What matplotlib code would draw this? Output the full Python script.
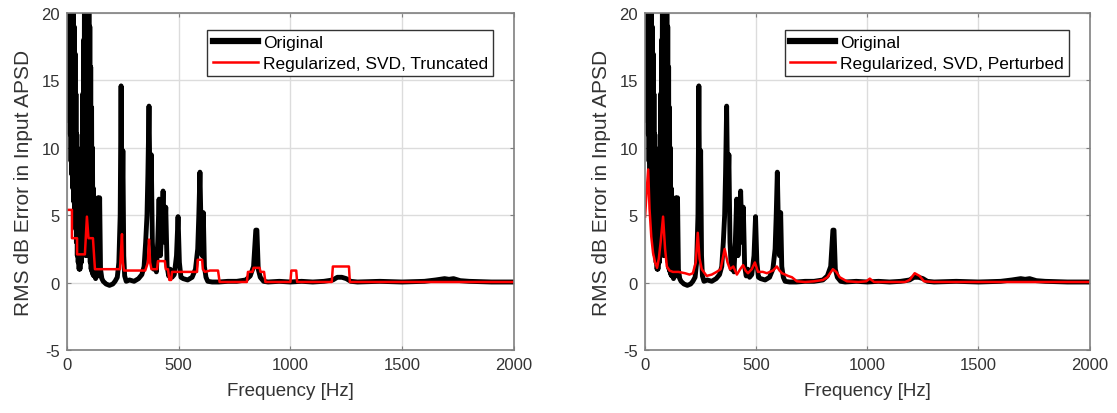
import numpy as np
import matplotlib
matplotlib.use('Agg')
import matplotlib.pyplot as plt

plt.rcParams['font.family'] = ['Liberation Sans', 'DejaVu Sans']
plt.rcParams['axes.unicode_minus'] = False

# original RMS dB error (same trace in both panels)
orig_freq = [0, 2, 4, 6, 8, 10, 12, 14, 16, 18, 20, 22, 24, 26, 28, 30, 32, 34, 36, 38,
             40, 42, 44, 46, 48, 50, 52, 54, 56, 58, 60, 62, 64, 66, 68, 70, 72, 74, 76,
             78, 80, 82, 84, 86, 88, 90, 92, 94, 96, 98, 100, 102, 104, 106, 108, 110,
             112, 114, 116, 118, 120, 122, 124, 126, 128, 130, 134, 138, 142, 146, 150,
             156, 162, 175, 190, 205, 215, 225, 232, 238, 242, 246, 250,
             254, 258, 265, 280, 300, 320, 335, 345, 352, 358, 362, 367, 372, 377, 382,
             388, 395, 400, 406, 412, 418, 424, 430, 436, 442, 448, 455, 462, 470, 480,
             490, 497, 503, 510, 520, 540, 560, 575, 585, 590, 595, 600, 605, 610, 615,
             622, 630, 650, 680, 720, 760, 800, 820, 835, 845, 850, 856, 865, 880, 900,
             950, 1000, 1050, 1100, 1150, 1190, 1210, 1230, 1250, 1270, 1300, 1400,
             1500, 1600, 1650, 1690, 1710, 1730, 1760, 1800, 1900, 2000]
orig_err = [22, 16, 21, 14, 20, 12, 21, 11, 21, 9, 21, 8, 21, 7, 20, 6, 19, 5, 17, 4,
            14, 3, 11, 2, 8, 1.5, 5, 1.0, 2.5, 1.0, 2, 6, 1.5, 10, 2, 14, 2.5, 18, 3,
            22, 3, 22, 2, 22, 3, 22, 2, 22, 2.5, 21, 2, 19, 1.5, 16, 1, 13,
            0.8, 10, 0.6, 7, 0.5, 5.5, 0.5, 5, 0.3, 4, 0.5, 6.3, 0.5, 6.3, 1.0,
            0.3, 0.1, -0.1, -0.2, -0.1, 0.1, 0.4, 1.5, 5, 14.6, 4, 9.8,
            2, 0.5, 0.1, 0.2, 0.1, 0.3, 0.6, 1.2, 3, 5, 8, 13.1, 6, 9.5, 3,
            1, 2, 0.8, 3, 6.2, 2, 4, 6.8, 3, 5.6, 1.2, 0.5, 1.0, 0.4, 0.6,
            2, 4.9, 1.5, 0.4, 0.3, 0.2, 0.4, 1.0, 2.5, 5, 8.2, 4, 2, 5.2, 1.2,
            0.4, 0.1, 0.05, 0.05, 0.1, 0.1, 0.2, 0.5, 1.2, 3.9, 3.9, 1.0, 0.4, 0.1, 0.05,
            0.1, 0.05, 0.1, 0.05, 0.1, 0.2, 0.4, 0.4, 0.3, 0.1, 0.05, 0.1,
            0.05, 0.1, 0.2, 0.3, 0.25, 0.3, 0.15, 0.1, 0.05, 0.05]

# regularized, SVD, truncated (step-like)
trunc_freq = [0, 22, 22, 45, 45, 80, 89, 96, 103, 116, 125, 237, 242, 246, 250, 255,
              350, 362, 367, 372, 378, 403, 407, 438, 442, 452, 458, 466, 470, 582,
              585, 605, 608, 617, 640, 676, 683, 805, 810, 830, 835, 862, 866, 882, 888,
              1000, 1004, 1026, 1030, 1185, 1190, 1262, 1266, 2000]
trunc_err = [5.4, 5.4, 3.3, 3.3, 2.1, 2.1, 4.9, 3.3, 3.3, 3.3, 1.0, 1.0, 2.5, 3.6, 1.5, 0.9,
             0.9, 1.5, 3.2, 1.5, 1.0, 1.0, 1.6, 1.6, 1.0, 1.0, 0.2, 0.2, 0.8, 0.8,
             1.7, 1.7, 1.0, 0.8, 0.9, 0.9, 0.05, 0.05, 0.8, 0.8, 1.1, 1.1, 0.8, 0.8, 0.05,
             0.05, 0.9, 0.9, 0.05, 0.05, 1.2, 1.2, 0.05, 0.05]

# regularized, SVD, perturbed (smooth)
pert_freq = [0, 6, 14, 20, 28, 36, 45, 54, 62, 70, 81, 90, 98, 110, 125, 150, 180, 200,
             215, 228, 237, 245, 255, 277, 300, 322, 340, 358, 371, 382, 397, 413,
             428, 441, 452, 463, 480, 494, 508, 530, 548, 575, 593, 605, 616, 630,
             643, 661, 683, 720, 760, 800, 820, 845, 860, 876, 908, 960, 995, 1011,
             1030, 1100, 1170, 1190, 1213, 1235, 1255, 1300, 1400, 1600, 2000]
pert_err = [4.9, 6.5, 8.4, 5.5, 3.4, 2.2, 1.5, 1.1, 1.8, 3.0, 4.9, 2.5, 1.2, 0.9, 0.8,
            0.8, 0.7, 0.6, 0.7, 1.5, 3.7, 1.8, 1.0, 0.5, 0.6, 0.8, 1.0, 2.5, 1.5,
            1.0, 1.2, 0.6, 1.0, 1.3, 0.9, 0.7, 1.0, 1.5, 0.8, 0.8, 0.7, 0.9, 1.2, 0.9,
            0.7, 0.6, 0.5, 0.4, 0.1, 0.05, 0.1, 0.2, 0.4, 1.0, 0.8, 0.4, 0.1, 0.05,
            0.1, 0.3, 0.05, 0.05, 0.05, 0.2, 0.7, 0.5, 0.1, 0.05, 0.05, 0.05, 0.05]

fig = plt.figure(figsize=(11.17, 4.14), dpi=100)
ax1 = fig.add_axes([0.060, 0.152, 0.400, 0.814])
ax2 = fig.add_axes([0.5775, 0.152, 0.398, 0.814])

panels = [(ax1, trunc_freq, trunc_err, 'Regularized, SVD, Truncated'),
          (ax2, pert_freq, pert_err, 'Regularized, SVD, Perturbed')]

for ax, rf, re_, lab in panels:
    ax.plot(orig_freq, orig_err, color='black', lw=3.5, label='Original')
    ax.plot(rf, re_, color='#ff0000', lw=1.8, label=lab)
    ax.set_xlim(0, 2000)
    ax.set_ylim(-5, 20)
    ax.set_xticks([0, 500, 1000, 1500, 2000])
    ax.set_yticks([-5, 0, 5, 10, 15, 20])
    ax.grid(True, color='#dcdcdc', lw=1.0)
    ax.set_axisbelow(True)
    for s in ax.spines.values():
        s.set_color('#808080')
        s.set_linewidth(1.2)
    ax.tick_params(labelsize=12, colors='#808080', labelcolor='#333333',
                   direction='in', length=3, top=True, right=True, pad=5)
    ax.set_xlabel('Frequency [Hz]', fontsize=13.5, color='#333333', labelpad=7)
    ax.set_ylabel('RMS dB Error in Input APSD', fontsize=15, color='#333333',
                  labelpad=6)
    leg = ax.legend(loc='upper right', bbox_to_anchor=(0.962, 0.96), fontsize=12.5,
                    fancybox=False, framealpha=1, edgecolor='#333333',
                    handlelength=2.6, handletextpad=0.3, borderpad=0.3,
                    labelspacing=0.3, borderaxespad=0.2)
    leg.get_frame().set_linewidth(1.0)
    leg.get_lines()[0].set_linewidth(4.5)

fig.savefig('out.png', dpi=100)
